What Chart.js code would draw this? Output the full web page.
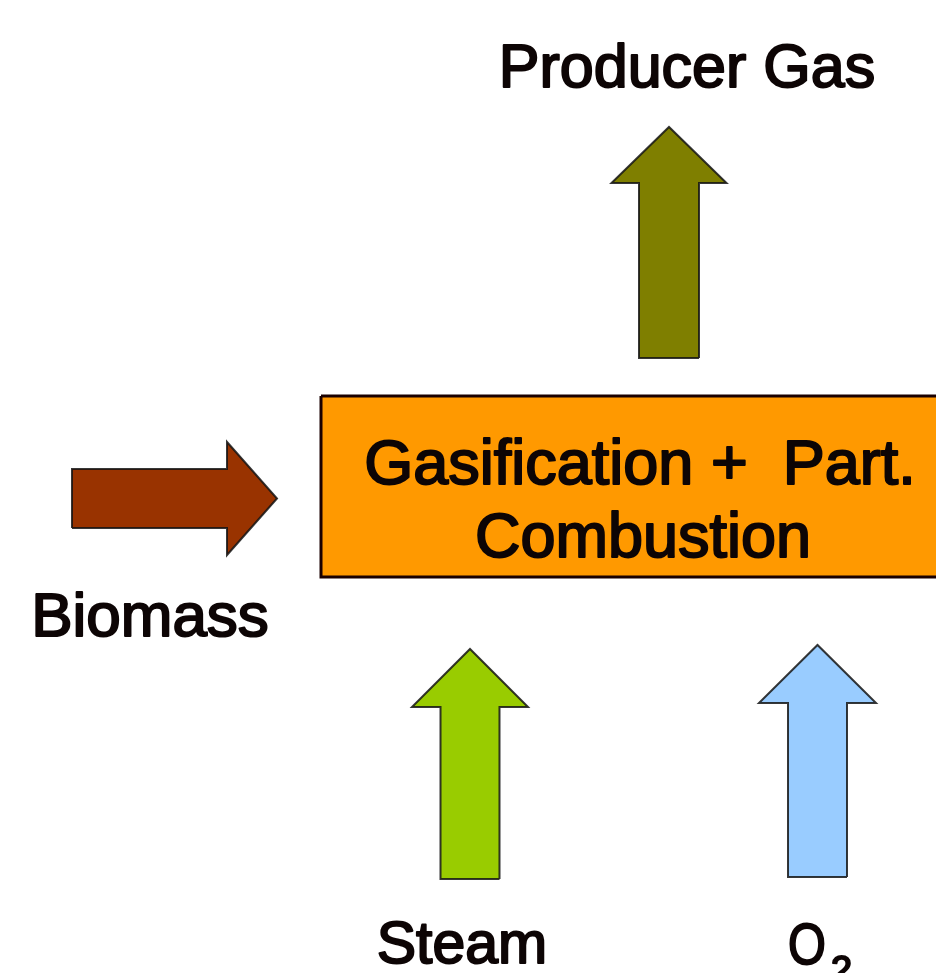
<!DOCTYPE html>
<html>
<head>
<meta charset="utf-8">
<script src="https://cdn.jsdelivr.net/npm/chart.js@4/dist/chart.umd.min.js"></script>
<style>
  html, body { margin: 0; padding: 0; background: #ffffff; }
  #wrap { width: 936px; height: 973px; position: relative; }
</style>
</head>
<body>
<div id="wrap"><canvas id="c"></canvas></div>
<script>
// ---- data (diagram coordinates, origin top-left, y downward) ----
const streamNames   = ['Producer Gas', 'Biomass', 'Steam', 'O'];
const streamColors  = ['#7f7f00', '#993300', '#99cc00', '#99ccff'];
const arrowTailX    = [669, 72, 470, 817.5];
const arrowTailY    = [358, 498.5, 879, 877];
const arrowTipX     = [669, 277, 470, 817.5];
const arrowTipY     = [127, 498.5, 649, 645];
const shaftWidths   = [60, 59, 59, 59];
const headWidths    = [115, 113, 116, 117];
const headLengths   = [56, 50, 58, 58];
const boxLines      = ['Gasification +  Part.', 'Combustion'];
const boxCorners    = [[321, 396], [950, 577]];

// ---- layout (text placement) ----
const textLayout = [
  { t: streamNames[0], x: 687, y: 87,  size: 61, align: 'center', sx: 1 },
  { t: streamNames[1], x: 150, y: 636, size: 62, align: 'center', sx: 1 },
  { t: streamNames[2], x: 462, y: 963, size: 59, align: 'center', sx: 1 },
  { t: streamNames[3], x: 807, y: 964, size: 58, align: 'center', sx: 0.84 },
  { t: '2',            x: 831, y: 983, size: 38, align: 'left',   sx: 1 },
  { t: boxLines[0],    x: 640, y: 484, size: 63, align: 'center', sx: 1 },
  { t: boxLines[1],    x: 643, y: 557, size: 63, align: 'center', sx: 1 }
];

function arrowPolygon(i) {
  const tx = arrowTailX[i], ty = arrowTailY[i];
  const hx = arrowTipX[i], hy = arrowTipY[i];
  const dx = hx - tx, dy = hy - ty;
  const L = Math.hypot(dx, dy);
  const ux = dx / L, uy = dy / L;      // direction
  const px = -uy, py = ux;             // perpendicular
  const sw = shaftWidths[i] / 2, hw = headWidths[i] / 2;
  const bx = hx - ux * headLengths[i], by = hy - uy * headLengths[i];
  const pts = [
    [tx + px * sw, ty + py * sw],
    [bx + px * sw, by + py * sw],
    [bx + px * hw, by + py * hw],
    [hx, hy],
    [bx - px * hw, by - py * hw],
    [bx - px * sw, by - py * sw],
    [tx - px * sw, ty - py * sw]
  ];
  pts.push(pts[0]);
  return pts.map(p => ({ x: p[0], y: p[1] }));
}

const boxPts = [
  { x: boxCorners[0][0], y: boxCorners[0][1] },
  { x: boxCorners[1][0], y: boxCorners[0][1] },
  { x: boxCorners[1][0], y: boxCorners[1][1] },
  { x: boxCorners[0][0], y: boxCorners[1][1] },
  { x: boxCorners[0][0], y: boxCorners[0][1] }
];

const datasets = [{
  label: 'Gasifier',
  data: boxPts,
  type: 'line',
  showLine: true,
  fill: 'shape',
  backgroundColor: '#ff9900',
  borderColor: '#1a0000',
  borderWidth: 3,
  pointRadius: 0,
  tension: 0,
  borderJoinStyle: 'miter'
}];
streamNames.forEach((n, i) => {
  datasets.push({
    label: n,
    data: arrowPolygon(i),
    type: 'line',
    showLine: true,
    fill: 'shape',
    backgroundColor: streamColors[i],
    borderColor: 'rgba(20,20,20,0.85)',
    borderWidth: 2,
    pointRadius: 0,
    tension: 0,
    borderJoinStyle: 'miter'
  });
});

const textPlugin = {
  id: 'diagramText',
  afterDatasetsDraw(chart) {
    const ctx = chart.ctx;
    const xs = chart.scales.x, ys = chart.scales.y;
    textLayout.forEach(o => {
      ctx.save();
      ctx.font = o.size + 'px "Liberation Sans", Arial, sans-serif';
      ctx.textAlign = o.align;
      ctx.textBaseline = 'alphabetic';
      ctx.fillStyle = '#0d0505';
      ctx.strokeStyle = '#0d0505';
      ctx.lineWidth = 2;
      ctx.lineJoin = 'round';
      const px = xs.getPixelForValue(o.x), py = ys.getPixelForValue(o.y);
      ctx.translate(px, py);
      ctx.scale(o.sx, 1);
      ctx.fillText(o.t, 0, 0);
      ctx.strokeText(o.t, 0, 0);
      ctx.restore();
    });
  }
};

new Chart(document.getElementById('c'), {
  type: 'scatter',
  data: { datasets },
  options: {
    responsive: true,
    maintainAspectRatio: false,
    animation: false,
    layout: { padding: 0 },
    plugins: { legend: { display: false }, tooltip: { enabled: false } },
    scales: {
      x: { type: 'linear', min: 0, max: 936, display: false },
      y: { type: 'linear', min: 0, max: 973, reverse: true, display: false }
    }
  },
  plugins: [textPlugin]
});
</script>
</body>
</html>
